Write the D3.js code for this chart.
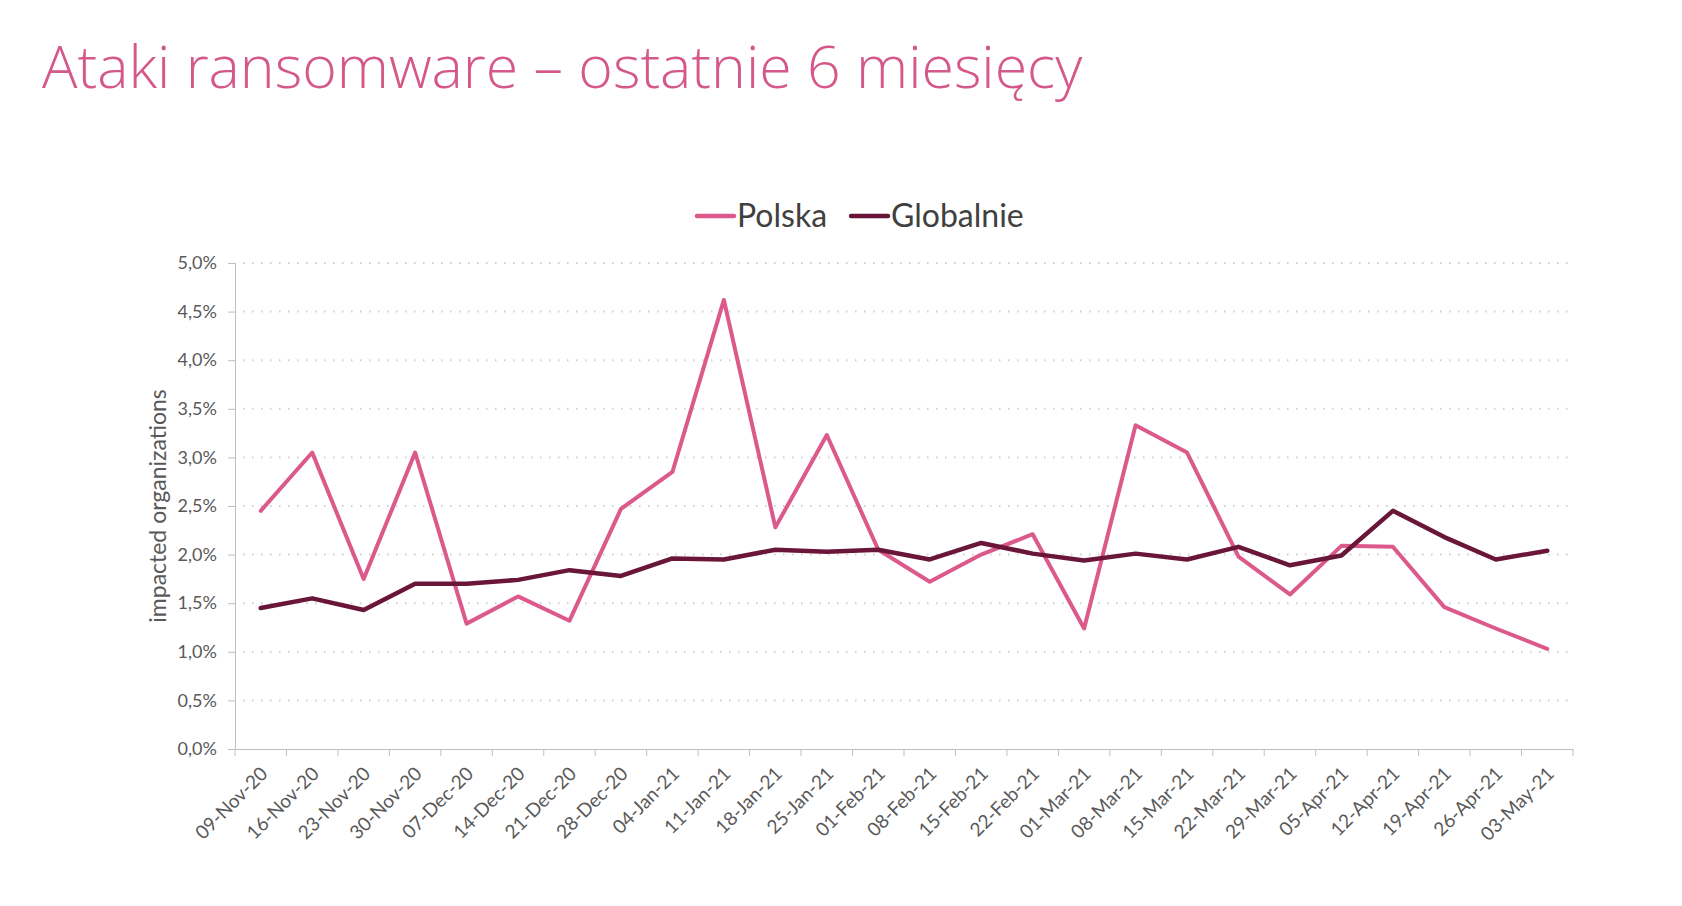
<!DOCTYPE html>
<html>
<head>
<meta charset="utf-8">
<script src="https://cdn.jsdelivr.net/npm/d3@7"></script>
<style>
  body { margin: 0; background: #fff; }
  svg { display: block; }
</style>
</head>
<body>
<svg id="chart" width="1682" height="906"></svg>
<script>
// weekly dates (x categories)
var dates = ["09-Nov-20", "16-Nov-20", "23-Nov-20", "30-Nov-20", "07-Dec-20", "14-Dec-20",
    "21-Dec-20", "28-Dec-20", "04-Jan-21", "11-Jan-21", "18-Jan-21", "25-Jan-21",
    "01-Feb-21", "08-Feb-21", "15-Feb-21", "22-Feb-21", "01-Mar-21", "08-Mar-21",
    "15-Mar-21", "22-Mar-21", "29-Mar-21", "05-Apr-21", "12-Apr-21", "19-Apr-21",
    "26-Apr-21", "03-May-21"];

// % of impacted organizations
var polska = [2.45, 3.05, 1.75, 3.05, 1.29, 1.57, 1.32, 2.47, 2.85, 4.62, 2.28, 3.23,
    2.05, 1.72, 2.0, 2.21, 1.24, 3.33, 3.05, 1.98, 1.59, 2.09, 2.08, 1.46, 1.24, 1.03];
var globalnie = [1.45, 1.55, 1.43, 1.70, 1.70, 1.74, 1.84, 1.78, 1.96, 1.95, 2.05, 2.03,
    2.05, 1.95, 2.12, 2.01, 1.94, 2.01, 1.95, 2.08, 1.89, 1.99, 2.45, 2.18, 1.95, 2.04];

var yTicks = [0, 0.5, 1, 1.5, 2, 2.5, 3, 3.5, 4, 4.5, 5];
var seriesNames = ["Polska", "Globalnie"];
var seriesColors = ["#db5a8b", "#6a1639"];

var svg = d3.select("#chart");
var margin = {left: 235, right: 1573, top: 263, bottom: 749};
var font = "Lato, Carlito, sans-serif";

var x = d3.scaleBand().domain(dates).range([margin.left, margin.right]);
var y = d3.scaleLinear().domain([0, 5]).range([margin.bottom, margin.top]);

var fmt = function (d) { return d.toFixed(1).replace(".", ",") + "%"; };

// title
svg.append("text")
    .attr("x", 42).attr("y", 88)
    .attr("font-family", "'Open Sans', sans-serif")
    .attr("font-weight", 300)
    .attr("font-size", 59)
    .attr("fill", "#d4588a")
    .text("Ataki ransomware \u2013 ostatnie 6 miesi\u0119cy");

// dotted gridlines
svg.append("g").selectAll("line")
    .data(yTicks.slice(1))
    .enter().append("line")
    .attr("x1", margin.left + 8).attr("x2", margin.right)
    .attr("y1", function (d) { return y(d); })
    .attr("y2", function (d) { return y(d); })
    .attr("stroke", "#cfcfcf")
    .attr("stroke-width", 2)
    .attr("stroke-dasharray", "1.5,7.5");

// y axis
var yAxis = svg.append("g")
    .attr("transform", "translate(" + margin.left + ",0)")
    .call(d3.axisLeft(y).tickValues(yTicks).tickFormat(fmt).tickSize(7).tickPadding(11));
yAxis.select(".domain").attr("stroke", "#bfbfbf");
yAxis.selectAll(".tick line").attr("stroke", "#bfbfbf");
yAxis.selectAll("text")
    .attr("font-family", font)
    .attr("font-size", 18)
    .attr("fill", "#595959");

// x axis
var xAxis = svg.append("g")
    .attr("transform", "translate(0," + margin.bottom + ")")
    .call(d3.axisBottom(x).tickSize(0).tickPadding(0));
xAxis.select(".domain").attr("stroke", "#bfbfbf");
xAxis.selectAll(".tick line").remove();
// tick marks between categories
xAxis.selectAll(".sep")
    .data(dates.concat(["end"]))
    .enter().append("line")
    .attr("class", "sep")
    .attr("x1", function (d, i) { return margin.left + i * x.bandwidth(); })
    .attr("x2", function (d, i) { return margin.left + i * x.bandwidth(); })
    .attr("y1", 0).attr("y2", 7)
    .attr("stroke", "#bfbfbf");
xAxis.selectAll(".tick text")
    .attr("font-family", font)
    .attr("font-size", 19)
    .attr("fill", "#595959")
    .attr("text-anchor", "end")
    .attr("dy", 0)
    .attr("transform", "translate(8,26) rotate(-45)");

// y label
svg.append("text")
    .attr("transform", "translate(166," + ((margin.top + margin.bottom) / 2) + ") rotate(-90)")
    .attr("text-anchor", "middle")
    .attr("font-family", font)
    .attr("font-size", 23)
    .attr("fill", "#595959")
    .text("impacted organizations");

// lines
var line = d3.line()
    .x(function (d, i) { return x(dates[i]) + x.bandwidth() / 2; })
    .y(function (d) { return y(d); });

[polska, globalnie].forEach(function (s, k) {
    svg.append("path")
        .datum(s)
        .attr("d", line)
        .attr("fill", "none")
        .attr("stroke", seriesColors[k])
        .attr("stroke-width", k ? 4.5 : 4)
        .attr("stroke-linejoin", "round")
        .attr("stroke-linecap", "round");
});

// legend
var legX = [697, 851];
seriesNames.forEach(function (n, k) {
    var g = svg.append("g").attr("transform", "translate(" + legX[k] + ",216)");
    g.append("line")
        .attr("x1", 0).attr("x2", 37).attr("y1", 0).attr("y2", 0)
        .attr("stroke", seriesColors[k]).attr("stroke-width", 4.5)
        .attr("stroke-linecap", "round");
    g.append("text")
        .attr("x", 40).attr("y", 11)
        .attr("font-family", font)
        .attr("font-size", 32)
        .attr("fill", "#404040")
        .text(n);
});
</script>
</body>
</html>
